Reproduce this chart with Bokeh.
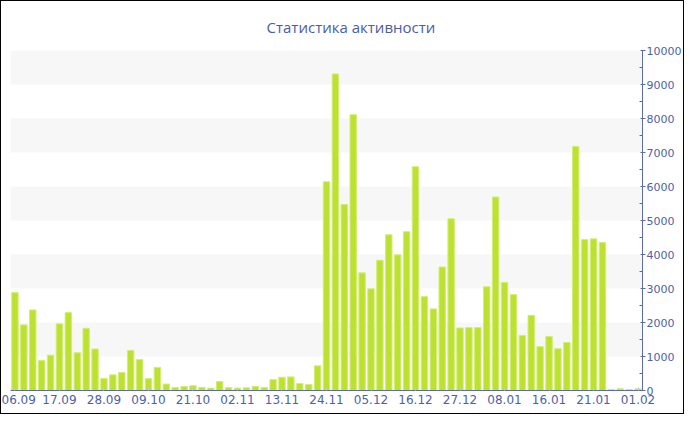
from bokeh.plotting import figure
from bokeh.models import FixedTicker, Range1d, Title
from bokeh.embed import file_html
from bokeh.resources import INLINE

# --- data -------------------------------------------------------------
values = [2880, 1930, 2370, 880, 1040, 1960, 2290, 1110, 1830, 1220,
          350, 460, 530, 1180, 910, 350, 680, 190, 90, 120,
          140, 90, 70, 265, 90, 70, 80, 120, 90, 320,
          390, 400, 205, 175, 725, 6140, 9310, 5470, 8110, 3460,
          2990, 3830, 4580, 3990, 4670, 6580, 2760, 2400, 3630, 5050,
          1840, 1850, 1850, 3050, 5690, 3180, 2820, 1620, 2210, 1290,
          1590, 1230, 1410, 7180, 4440, 4460, 4350, 30, 50, 30, 50]
tick_labels = ["06.09", "17.09", "28.09", "09.10", "21.10", "02.11", "13.11",
               "24.11", "05.12", "16.12", "27.12", "08.01", "16.01", "21.01", "01.02"]
label_step = 5
y_ticks = list(range(0, 10001, 1000))
y_minor = list(range(500, 10000, 1000))
title_text = "Статистика активности"

idx = list(range(len(values)))
tick_pos = idx[::label_step]

TXT = "#4d5fa6"
AX = "#5b6bab"

p = figure(width=684, height=414, output_backend="svg", toolbar_location=None,
           y_axis_location="right",
           x_range=Range1d(-0.5, len(values) - 0.5), y_range=Range1d(0, 10000),
           min_border_left=9, min_border_right=43, min_border_top=49, min_border_bottom=25)
p.outline_line_color = None
p.background_fill_color = "white"
p.border_fill_color = "white"
p.styles = {"border": "1px solid black"}

t = Title(text=title_text, align="left", text_font="Open Sans", text_font_size="15px",
          text_color="#4a5ca8", text_font_style="normal", standoff=27, offset=256)
p.add_layout(t, "above")

p.vbar(x=idx, top=values, width=0.72, bottom=0,
       fill_color="#bde130", line_color="#d3ed74", line_width=1)

# grids
p.ygrid.ticker = FixedTicker(ticks=y_ticks)
p.ygrid.grid_line_color = None
p.ygrid.band_fill_color = "#f7f7f7"
p.ygrid.band_fill_alpha = 1
p.xgrid.ticker = FixedTicker(ticks=tick_pos)
p.xgrid.grid_line_color = "white"
p.xgrid.level = "image"

# x axis
xa = p.xaxis[0]
xa.ticker = FixedTicker(ticks=tick_pos)
xa.major_label_overrides = {i: lab for i, lab in zip(tick_pos, tick_labels)}
xa.major_label_text_font = "DejaVu Sans"
xa.major_label_text_font_size = "12px"
xa.major_label_text_color = TXT
xa.axis_line_color = AX
xa.major_tick_in = 3
xa.major_tick_out = 0
xa.major_tick_line_color = "#c8c8c8"
xa.minor_tick_line_color = None
xa.major_label_standoff = 4

# y axis (right)
ya = p.yaxis[0]
ya.ticker = FixedTicker(ticks=y_ticks, minor_ticks=y_minor)
ya.major_label_text_font = "DejaVu Sans"
ya.major_label_text_font_size = "11px"
ya.major_label_text_color = TXT
ya.axis_line_color = AX
ya.major_tick_line_color = AX
ya.minor_tick_line_color = AX
ya.major_tick_in = 2
ya.major_tick_out = 3
ya.minor_tick_in = 3
ya.minor_tick_out = 0
ya.major_label_standoff = 1

open("out.html", "w").write(file_html(p, INLINE))
